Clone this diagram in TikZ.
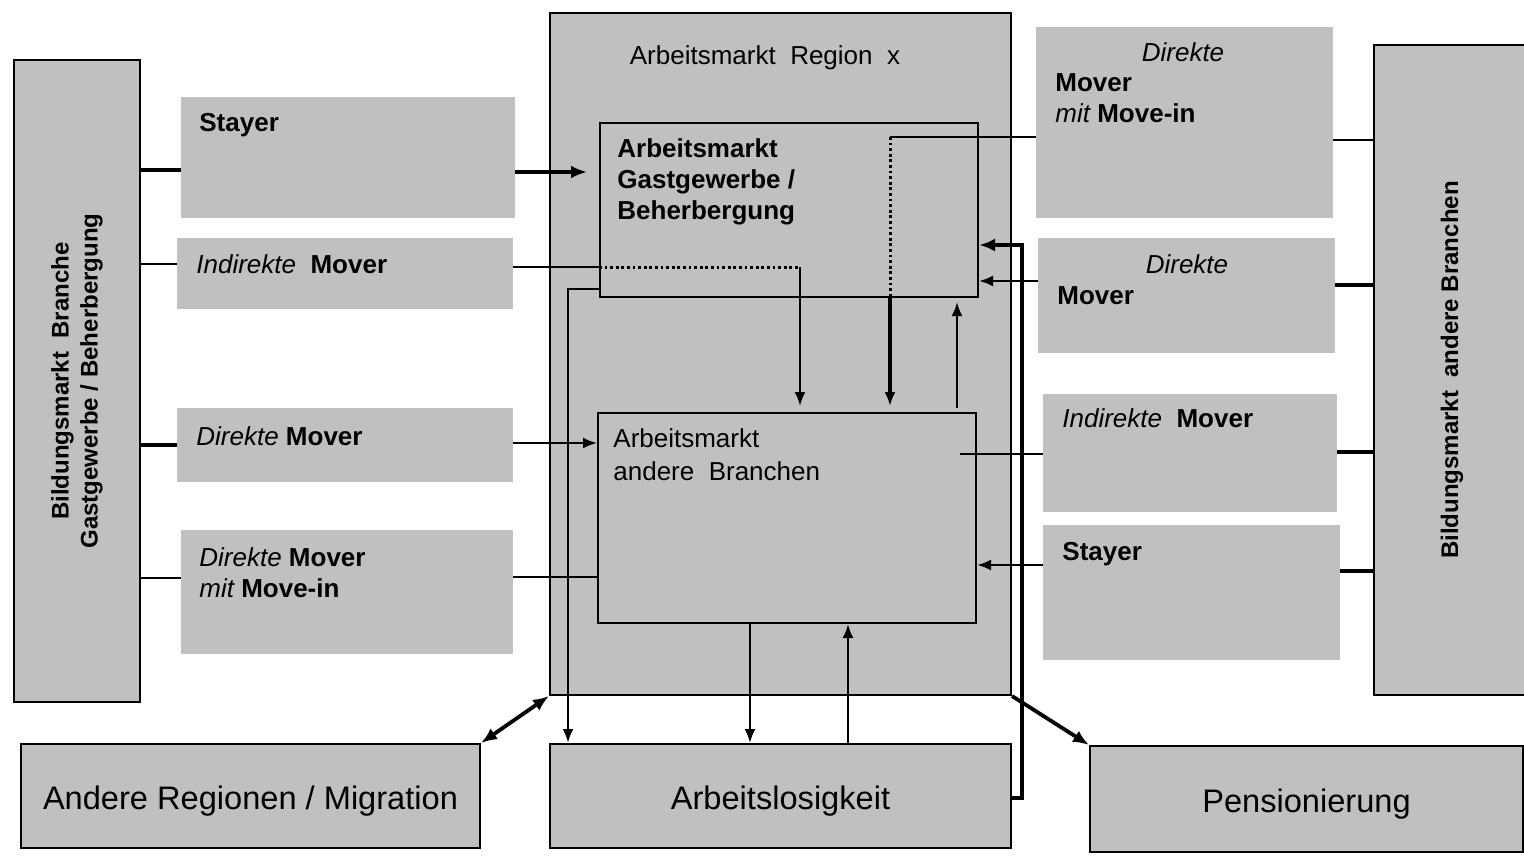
\documentclass[tikz,border=0pt]{standalone}
\usepackage{fontspec}
\setmainfont{Liberation Sans}
\usepackage{tikz}
\usetikzlibrary{arrows.meta,positioning,fit}
\definecolor{cellgray}{HTML}{C0C0C0}
\newcommand{\itword}[1]{{\mdseries\itshape #1}}
\tikzset{
  cellbox/.style={
    fill=cellgray,
    draw=none,
    inner sep=0pt
  },
  framebox/.style={
    cellbox,
    draw=black,
    line width=1pt
  },
  celltext/.style={
    font=\fontsize{13}{15.5}\selectfont\bfseries,
    inner sep=0pt,
    align=left
  },
  plaintext/.style={
    font=\fontsize{13}{16.5}\selectfont,
    inner sep=0pt,
    align=left
  },
  sidetext/.style={
    font=\fontsize{12}{14.5}\selectfont\bfseries,
    inner sep=0pt,
    align=center,
    rotate=90
  },
  bigtext/.style={font=\fontsize{16.3}{19}\selectfont, inner sep=0pt, yshift=-2.5pt},
  link/.style={line width=1.2pt, draw=black},
  linkbold/.style={line width=1.7pt, draw=black},
  flowarrow/.style={-{Latex[length=7pt,width=5.5pt]}, line width=1.2pt, draw=black},
  boldarrow/.style={-{Latex[length=8pt,width=6.5pt]}, line width=1.9pt, draw=black},
  dotline/.style={line width=1.5pt, dash pattern=on 1.4pt off 1.4pt, draw=black}
}

\begin{document}
\begin{tikzpicture}[x=0.5pt, y=-0.5pt]
\path[use as bounding box] (0,0) rectangle (1524,858);

\node[framebox, fit={(14,60)(140,702)}] (bildL) {};
\node[cellbox, fit={(181,97)(515,218)}] (stayL) {};
\node[cellbox, fit={(177,238)(513,309)}] (indL) {};
\node[cellbox, fit={(177,408)(513,482)}] (dirL) {};
\node[cellbox, fit={(181,530)(513,654)}] (dirinL) {};
\node[framebox, fit={(550,13)(1011,695)}] (region) {};
\node[framebox, fit={(600,123)(978,297)}] (gast) {};
\node[framebox, fit={(598,413)(976,623)}] (andere) {};
\node[cellbox, fit={(1036,27)(1333,218)}] (dirinR) {};
\node[cellbox, fit={(1038,238)(1335,353)}] (dirR) {};
\node[cellbox, fit={(1043,394)(1337,512)}] (indR) {};
\node[cellbox, fit={(1043,525)(1340,660)}] (stayR) {};
\node[framebox, fit={(1374,45)(1530,695)}] (bildR) {};
\node[framebox, fit={(21,744)(480,848)}] (migr) {};
\node[framebox, fit={(550,744)(1011,848)}] (arbl) {};
\node[framebox, fit={(1090,746)(1523,852)}] (pens) {};

\node[sidetext] (bildLtext) at (bildL.center) {Bildungsmarkt\ \ Branche\\Gastgewerbe / Beherbergung};
\node[sidetext] (bildRtext) at (bildR.center) {Bildungsmarkt\ \ andere Branchen};
\node[celltext, anchor=base west] (stayLtext) at (199,131) {Stayer};
\node[celltext, anchor=base west] (indLtext) at (196,273) {\itword{Indirekte}\ \ Mover};
\node[celltext, anchor=base west] (dirLtext) at (196,445) {\itword{Direkte} Mover};
\node[celltext, anchor=north west] (dirinLtext) at (199,547) {\itword{Direkte} Mover\\\itword{mit} Move-in};
\node[plaintext, anchor=base] (regiontext) at (765,64) {Arbeitsmarkt\ \ Region\ \ x};
\node[celltext, anchor=north west] (gasttext) at (617,138) {Arbeitsmarkt\\Gastgewerbe /\\Beherbergung};
\node[plaintext, anchor=north west] (anderetext) at (613,428) {Arbeitsmarkt\\andere\ \ Branchen};
\node[plaintext, font=\fontsize{13}{15.5}\selectfont\itshape, anchor=base] (dirinRhead) at (1183,61) {Direkte};
\node[celltext, anchor=north west] (dirinRtext) at (1055,73) {Mover\\\itword{mit} Move-in};
\node[plaintext, font=\fontsize{13}{15.5}\selectfont\itshape, anchor=base] (dirRhead) at (1187,273) {Direkte};
\node[celltext, anchor=base west] (dirRtext) at (1057,304) {Mover};
\node[celltext, anchor=base west] (indRtext) at (1062,427) {\itword{Indirekte}\ \ Mover};
\node[celltext, anchor=base west] (stayRtext) at (1062,560) {Stayer};
\node[bigtext] (migrtext) at (migr.center) {Andere Regionen / Migration};
\node[bigtext] (arbltext) at (arbl.center) {Arbeitslosigkeit};
\node[bigtext] (penstext) at (pens.center) {Pensionierung};

\draw[linkbold] (bildL.east |- 0,170) -- (stayL.west |- 0,170);
\draw[link] (bildL.east |- 0,264) -- (indL.west |- 0,264);
\draw[linkbold] (bildL.east |- 0,445) -- (dirL.west |- 0,445);
\draw[link] (bildL.east |- 0,578) -- (dirinL.west |- 0,578);
\draw[link] (dirinR.east |- 0,140) -- (bildR.west |- 0,140);
\draw[linkbold] (dirR.east |- 0,285) -- (bildR.west |- 0,285);
\draw[linkbold] (indR.east |- 0,452) -- (bildR.west |- 0,452);
\draw[linkbold] (stayR.east |- 0,571) -- (bildR.west |- 0,571);

\draw[boldarrow, shorten >=6pt] (stayL.east |- 0,172) -- (gast.west |- 0,172);
\draw[link] (indL.east |- 0,267) -- (gast.west |- 0,267);
\draw[dotline] (gast.west |- 0,267) -- (800,267) coordinate (dotA);
\draw[flowarrow, shorten >=3pt] (dotA) -- (andere.north -| dotA);
\draw[flowarrow] (dirL.east |- 0,443) -- (andere.west |- 0,443);
\draw[link] (dirinL.east |- 0,577) -- (andere.west |- 0,577);
\draw[link] (dirinR.west |- 0,137) -- (890,137) coordinate (dotB);
\draw[dotline] (dotB) -- (gast.south -| dotB);
\draw[flowarrow, line width=1.6pt, shorten >=3pt] (gast.south -| dotB) -- (andere.north -| dotB);
\draw[flowarrow] (dirR.west |- 0,281) -- (gast.east |- 0,281);
\draw[boldarrow] (arbl.east |- 0,798) -- ++(10,0) |- (gast.east |- 0,245);
\draw[flowarrow, shorten <=2pt, shorten >=2pt] (andere.north -| 957,0) -- (gast.south -| 957,0);
\draw[link] (indR.west |- 0,454) -- (960,454) coordinate (indRend);
\draw[flowarrow] (stayR.west |- 0,565) -- (andere.east |- 0,565);
\draw[flowarrow, line width=1.4pt] (gast.west |- 0,289) -| (arbl.north -| 568,0);
\draw[flowarrow] (andere.south -| 750,0) -- (arbl.north -| 750,0);
\draw[flowarrow] (arbl.north -| 848,0) -- (andere.south -| 848,0);
\draw[boldarrow, {Latex[length=8pt,width=6.5pt]}-{Latex[length=8pt,width=6.5pt]}] (region.south west) -- (migr.north east);
\draw[boldarrow] (region.south east) -- (pens.north west);
\end{tikzpicture}
\end{document}
